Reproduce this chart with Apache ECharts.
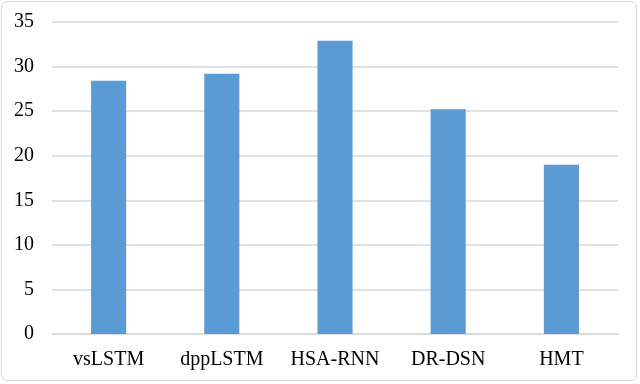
<!DOCTYPE html>
<html>
<head>
<meta charset="utf-8">
<script src="https://cdn.jsdelivr.net/npm/echarts@6/dist/echarts.min.js"></script>
<style>
  html, body { margin: 0; padding: 0; background: #fff; }
  #frame {
    position: absolute; left: 1px; top: 1px; width: 636px; height: 380px;
    border: 1px solid #d9d9d9; border-radius: 6px; box-sizing: border-box;
  }
  #chart { width: 640px; height: 384px; }
</style>
</head>
<body>
<div id="frame"></div>
<div id="chart"></div>
<script>
  const categories = ["vsLSTM", "dppLSTM", "HSA-RNN", "DR-DSN", "HMT"];
  const values = [28.4, 29.2, 32.9, 25.2, 19.0];
  const yTicks = { min: 0, max: 35, step: 5 };

  const chart = echarts.init(document.getElementById("chart"));
  const font = "'Liberation Serif', 'DejaVu Serif', serif";

  chart.setOption({
    animation: false,
    grid: { left: 52, right: 22, top: 22, bottom: 50, containLabel: false },
    xAxis: {
      type: "category",
      data: categories,
      axisLine: { show: true, lineStyle: { color: "#d9d9d9", width: 1.5 } },
      axisTick: { show: false },
      axisLabel: { color: "#000", fontFamily: font, fontSize: 20, margin: 16, interval: 0 }
    },
    yAxis: {
      type: "value",
      min: yTicks.min,
      max: yTicks.max,
      interval: yTicks.step,
      axisLine: { show: false },
      axisTick: { show: false },
      splitLine: { lineStyle: { color: "#d9d9d9", width: 1.5 } },
      axisLabel: { color: "#000", fontFamily: font, fontSize: 20, margin: 18 }
    },
    series: [{
      type: "bar",
      data: values,
      barWidth: "31%",
      itemStyle: { color: "#5b9bd5" }
    }]
  });
</script>
</body>
</html>
